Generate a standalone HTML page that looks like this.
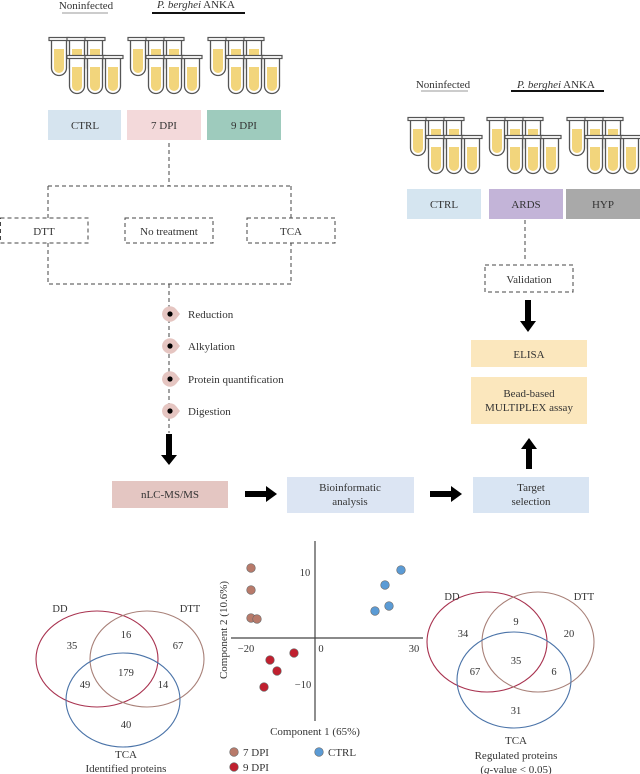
<!DOCTYPE html>
<html><head><meta charset="utf-8"><style>
html,body{margin:0;padding:0;background:#fff;}
svg{display:block;font-family:"Liberation Serif",serif;}
</style></head><body>
<svg width="640" height="774" viewBox="0 0 640 774" xmlns="http://www.w3.org/2000/svg">
<defs>
<g id="t">
<path d="M2.5 3 V31 a7.5 7.5 0 0 0 15 0 V3" fill="#fff" stroke="#555" stroke-width="1.3"/>
<path d="M5 12 V31 a5 5 0 0 0 10 0 V12 Z" fill="#f2d57c"/>
<rect x="0" y="0.5" width="20" height="3" fill="#fff" stroke="#555" stroke-width="1.2"/>
</g>
<g id="grp">
<use href="#t" x="0" y="0"/><use href="#t" x="18" y="0"/><use href="#t" x="36" y="0"/>
<use href="#t" x="18" y="18"/><use href="#t" x="36" y="18"/><use href="#t" x="54" y="18"/>
</g>
<g id="step">
<path d="M-8 0 a8 8 0 0 1 14 -5 L10 0 L6 5 a8 8 0 0 1 -14 -5Z" fill="#e5c5c1"/>
<circle r="2.6" fill="#000"/>
</g>
</defs>

<!-- top left -->
<g font-size="11" fill="#333" text-anchor="middle">
<text x="86" y="9">Noninfected</text>
<text x="196" y="8"><tspan font-style="italic">P. berghei</tspan> ANKA</text>
</g>
<line x1="62" y1="13" x2="108" y2="13" stroke="#ccc" stroke-width="2"/>
<line x1="152" y1="13" x2="245" y2="13" stroke="#111" stroke-width="2"/>
<use href="#grp" x="49" y="37"/>
<use href="#grp" x="128" y="37"/>
<use href="#grp" x="208" y="37"/>
<rect x="48" y="110" width="73" height="30" fill="#d6e4ef"/>
<rect x="127" y="110" width="74" height="30" fill="#f3d9da"/>
<rect x="207" y="110" width="74" height="30" fill="#9ecbbd"/>
<g font-size="11" fill="#333" text-anchor="middle">
<text x="85" y="129">CTRL</text><text x="164" y="129">7 DPI</text><text x="244" y="129">9 DPI</text>
</g>

<!-- dashed structure -->
<g fill="none" stroke="#444" stroke-width="1" stroke-dasharray="4,3">
<path d="M169 143 V186 M48 186 H291 M48 186 V218 M291 186 V218"/>
<rect x="0.5" y="218" width="87.5" height="25"/>
<rect x="125" y="218" width="88" height="25"/>
<rect x="247" y="218" width="88" height="25"/>
<path d="M48 243 V284 H291 V243 M169 284 V433"/>
</g>
<g font-size="11" fill="#333" text-anchor="middle">
<text x="44" y="235">DTT</text><text x="169" y="235">No treatment</text><text x="291" y="235">TCA</text>
</g>
<use href="#step" x="170" y="314"/>
<use href="#step" x="170" y="346"/>
<use href="#step" x="170" y="379"/>
<use href="#step" x="170" y="411"/>
<g font-size="11" fill="#333">
<text x="188" y="318">Reduction</text>
<text x="188" y="350">Alkylation</text>
<text x="188" y="383">Protein quantification</text>
<text x="188" y="415">Digestion</text>
</g>
<path d="M166 434 H172 V455 H177 L169 465 L161 455 H166Z" fill="#000"/>

<!-- bottom row boxes -->
<rect x="112" y="481" width="116" height="27" fill="#e4c6c2"/>
<rect x="287" y="477" width="127" height="36" fill="#dce5f3"/>
<rect x="473" y="477" width="116" height="36" fill="#d9e5f3"/>
<g font-size="11" fill="#333" text-anchor="middle">
<text x="170" y="498">nLC-MS/MS</text>
<text x="350" y="491">Bioinformatic</text><text x="350" y="505">analysis</text>
<text x="531" y="491">Target</text><text x="531" y="505">selection</text>
</g>
<path d="M245 491 H266 V486 L277 494 L266 502 V497 H245Z" fill="#000"/>
<path d="M430 491 H451 V486 L462 494 L451 502 V497 H430Z" fill="#000"/>
<path d="M526 469 V449 H521 L529 438 L537 449 H532 V469Z" fill="#000"/>

<!-- top right -->
<g font-size="11" fill="#333" text-anchor="middle">
<text x="443" y="88">Noninfected</text>
<text x="556" y="88"><tspan font-style="italic">P. berghei</tspan> ANKA</text>
</g>
<line x1="421" y1="91" x2="468" y2="91" stroke="#ccc" stroke-width="2"/>
<line x1="511" y1="91" x2="604" y2="91" stroke="#111" stroke-width="2"/>
<use href="#grp" x="408" y="117"/>
<use href="#grp" x="487" y="117"/>
<use href="#grp" x="567" y="117"/>
<rect x="407" y="189" width="74" height="30" fill="#d5e5f0"/>
<rect x="489" y="189" width="74" height="30" fill="#c3b4d8"/>
<rect x="566" y="189" width="74" height="30" fill="#a9a9a9"/>
<g font-size="11" fill="#333" text-anchor="middle">
<text x="444" y="208">CTRL</text><text x="526" y="208">ARDS</text><text x="603" y="208">HYP</text>
</g>
<g fill="none" stroke="#444" stroke-width="1" stroke-dasharray="4,3">
<path d="M525 220 V259"/>
<rect x="485" y="265" width="88" height="27"/>
</g>
<text x="529" y="283" font-size="11" fill="#333" text-anchor="middle">Validation</text>
<path d="M525 300 H531 V321 H536 L528 332 L520 321 H525Z" fill="#000"/>
<rect x="471" y="340" width="116" height="27" fill="#fbe7bd"/>
<rect x="471" y="377" width="116" height="47" fill="#fbe7bd"/>
<g font-size="11" fill="#333" text-anchor="middle">
<text x="529" y="358">ELISA</text>
<text x="529" y="397">Bead-based</text><text x="529" y="411">MULTIPLEX assay</text>
</g>

<!-- venn left -->
<g fill="none" stroke-width="1.1">
<ellipse cx="97" cy="659" rx="61" ry="48" stroke="#a8324f"/>
<ellipse cx="147" cy="659" rx="57" ry="48" stroke="#a88078"/>
<ellipse cx="123" cy="700" rx="57" ry="47" stroke="#4a73a8"/>
</g>
<g font-size="10.5" fill="#333" text-anchor="middle">
<text x="60" y="612">DD</text><text x="190" y="612">DTT</text>
<text x="72" y="649">35</text><text x="126" y="638">16</text><text x="178" y="649">67</text>
<text x="126" y="676">179</text><text x="85" y="688">49</text><text x="163" y="688">14</text>
<text x="126" y="728">40</text>
<text x="126" y="758" font-size="11">TCA</text>
<text x="126" y="772" font-size="11">Identified proteins</text>
</g>

<!-- venn right -->
<g fill="none" stroke-width="1.1">
<ellipse cx="487" cy="642" rx="60" ry="50" stroke="#a8324f"/>
<ellipse cx="538" cy="642" rx="56" ry="50" stroke="#a88078"/>
<ellipse cx="514" cy="680" rx="57" ry="48" stroke="#4a73a8"/>
</g>
<g font-size="10.5" fill="#333" text-anchor="middle">
<text x="452" y="600">DD</text><text x="584" y="600">DTT</text>
<text x="463" y="637">34</text><text x="516" y="625">9</text><text x="569" y="637">20</text>
<text x="516" y="664">35</text><text x="475" y="675">67</text><text x="554" y="675">6</text>
<text x="516" y="714">31</text>
<text x="516" y="744" font-size="11">TCA</text>
<text x="516" y="759" font-size="11">Regulated proteins</text>
<text x="516" y="773" font-size="11">(<tspan font-style="italic">q</tspan>-value &lt; 0.05)</text>
</g>

<!-- scatter -->
<line x1="315" y1="541" x2="315" y2="721" stroke="#444" stroke-width="1.2"/>
<line x1="231" y1="638" x2="423" y2="638" stroke="#444" stroke-width="1.2"/>
<g font-size="10.5" fill="#333" text-anchor="middle">
<text x="305" y="576">10</text><text x="246" y="652">−20</text><text x="321" y="652">0</text>
<text x="414" y="652">30</text><text x="303" y="688">−10</text>
<text x="315" y="735" font-size="11">Component 1 (65%)</text>
<text transform="translate(227,630) rotate(-90)" font-size="11">Component 2 (10.6%)</text>
</g>
<g stroke="#666" stroke-width="0.6">
<g fill="#b87a6a"><circle cx="251" cy="568" r="4.3"/><circle cx="251" cy="590" r="4.3"/><circle cx="251" cy="618" r="4.3"/><circle cx="257" cy="619" r="4.3"/></g>
<g fill="#5b9bd5"><circle cx="401" cy="570" r="4.3"/><circle cx="385" cy="585" r="4.3"/><circle cx="389" cy="606" r="4.3"/><circle cx="375" cy="611" r="4.3"/></g>
<g fill="#c0202f"><circle cx="294" cy="653" r="4.3"/><circle cx="270" cy="660" r="4.3"/><circle cx="277" cy="671" r="4.3"/><circle cx="264" cy="687" r="4.3"/></g>
<circle cx="234" cy="752" r="4.3" fill="#b87a6a"/>
<circle cx="319" cy="752" r="4.3" fill="#5b9bd5"/>
<circle cx="234" cy="767" r="4.3" fill="#c0202f"/>
</g>
<g font-size="11" fill="#333">
<text x="243" y="756">7 DPI</text><text x="328" y="756">CTRL</text><text x="243" y="771">9 DPI</text>
</g>
</svg>
</body></html>
